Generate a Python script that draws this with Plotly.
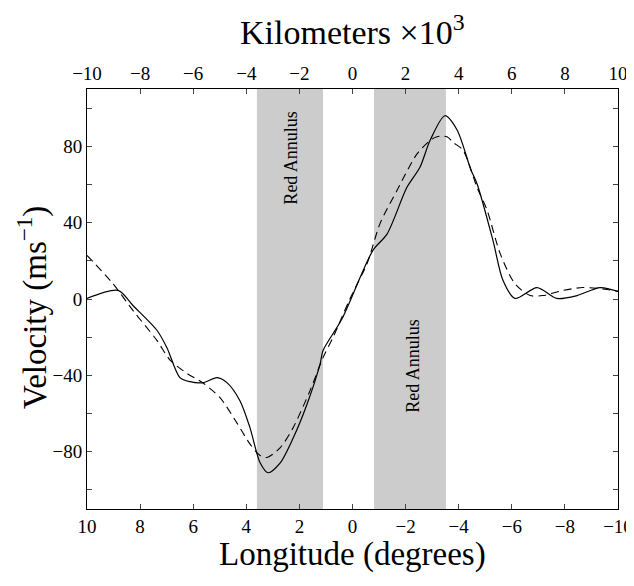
import plotly.graph_objects as go

# solid curve (degrees, m/s)
solid_deg = [10, 8.83, 8.27, 7.36, 6.99, 6.50, 6.12, 5.63, 5.10, 4.73, 4.24, 3.86, 3.48, 3.18,
             2.73, 2.24, 1.71, 1.22, 1.11, 0.40, -0.77, -1.30, -2.05, -2.54, -2.92, -3.48,
             -3.94, -4.45, -4.70, -5.29, -5.67, -6.12, -6.95, -7.70, -8.46, -9.32, -10]
solid_vel = [0.3, 4.5, -3.4, -16.5, -25.5, -41.2, -43.3, -43.8, -41.2, -43.8, -53.3, -67.5, -85.8, -91,
             -86, -73, -55, -34, -27, -10.5, 25.5, 34, 58.5, 69, 83, 96,
             88.5, 68, 60, 30.7, 9.7, 0.3, 6, 0.3, 1.8, 6, 4]

# dashed curve
dash_deg = [10, 9.02, 8.27, 7.36, 6.87, 6.23, 5.63, 4.99, 4.35, 3.86, 3.48, 3.22, 2.73, 2.24,
            1.60, 1.11, 0.73, 0.10, -0.55, -1.04, -1.68, -2.43, -2.92, -3.18, -3.56, -3.79,
            -4.16, -4.69, -5.07, -5.56, -6.12, -6.69, -7.17, -7.93, -8.68, -9.59, -10]
dash_vel = [22.8, 8, -6, -21.8, -32, -39, -44, -51.7, -65, -76, -82, -83, -78, -67.5,
            -48, -30.7, -20, 0, 18.6, 39.6, 57, 76, 83, 85, 85, 82,
            78, 58.5, 46.5, 23.9, 8, 1.8, 1.8, 4.5, 6, 5, 4]

# shaded bands (degrees)
bands = [(3.60, 1.11), (-0.81, -3.52)]
band_labels = [(2.32, 74), (-2.28, -35)]

deg_ticks = [10, 8, 6, 4, 2, 0, -2, -4, -6, -8, -10]
km_ticks = [-10, -8, -6, -4, -2, 0, 2, 4, 6, 8, 10]
vel_ticks = [-100, -80, -60, -40, -20, 0, 20, 40, 60, 80, 100]

SERIF = "Liberation Serif"


def lab(v):
    return str(v).replace("-", "\u2212")


fig = go.Figure()
fig.add_trace(go.Scatter(x=solid_deg, y=solid_vel, mode="lines",
                         line=dict(color="black", width=1.2, shape="spline", smoothing=0.8),
                         showlegend=False))
fig.add_trace(go.Scatter(x=dash_deg, y=dash_vel, mode="lines",
                         line=dict(color="black", width=1.1, dash="8px,5px", shape="spline", smoothing=0.8),
                         showlegend=False))
# dummy trace so the kilometre axis is drawn
fig.add_trace(go.Scatter(x=[-10, 10], y=[0, 0], xaxis="x2", mode="lines",
                         line=dict(width=0), opacity=0, hoverinfo="skip", showlegend=False))

for x0, x1 in bands:
    fig.add_shape(type="rect", xref="x", yref="paper", x0=x0, x1=x1, y0=0, y1=1,
                  fillcolor="#cccccc", line_width=0, layer="below")
for x, y in band_labels:
    fig.add_annotation(x=x, y=y, text="Red Annulus", showarrow=False, textangle=-90,
                       font=dict(family=SERIF, size=18, color="black"))

# axis titles
titles = [
    (0.5, 1.1405, "Kilometers \u00d710<sup>3</sup>", 34, 0),
    (0.5, -0.1095, "Longitude (degrees)", 33, 0),
    (-0.1017, 0.481, "Velocity (ms<sup>\u22121</sup>)", 33, -90),
]
for x, y, text, size, angle in titles:
    fig.add_annotation(xref="paper", yref="paper", x=x, y=y, text=text, showarrow=False,
                       xanchor="center", yanchor="middle", textangle=angle,
                       font=dict(family=SERIF, size=size, color="black"))

axis_common = dict(showline=True, linecolor="black", linewidth=1, ticks="inside", ticklen=5,
                   tickcolor="#444", showgrid=False, zeroline=False, automargin=False,
                   tickfont=dict(family=SERIF, size=19, color="black"))

# the page body adds an 8px offset, so the figure is 8px smaller on each axis
fig.update_layout(
    width=626, height=578,
    margin=dict(l=79, r=16, t=81, b=77),
    paper_bgcolor="white", plot_bgcolor="white",
    xaxis=dict(range=[10, -10], tickvals=deg_ticks, ticktext=[lab(v) for v in deg_ticks],
               **axis_common),
    xaxis2=dict(range=[-10, 10], overlaying="x", side="top", anchor="y",
                tickvals=km_ticks, ticktext=[lab(v) for v in km_ticks],
                **axis_common),
    yaxis=dict(range=[-110, 110], tickvals=vel_ticks,
               ticktext=[lab(v) if v % 40 == 0 else "" for v in vel_ticks],
               mirror="ticks", **axis_common),
)

fig.write_html("out.html")
